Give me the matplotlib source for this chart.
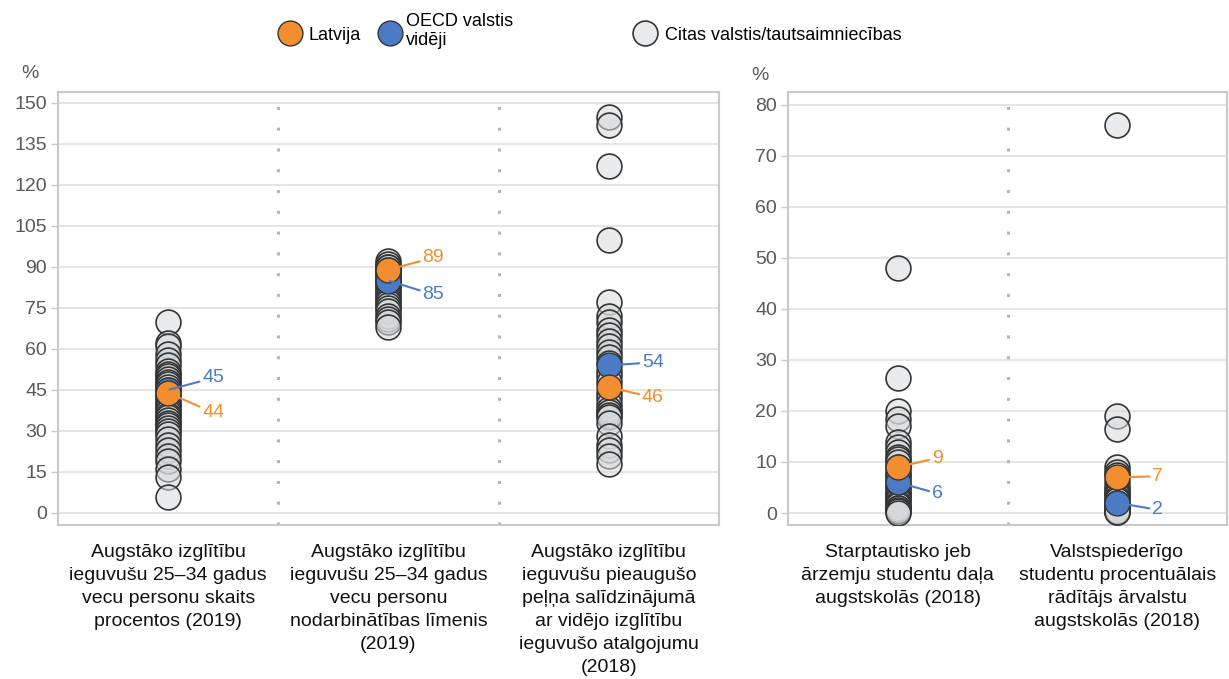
import matplotlib
matplotlib.use("Agg")
import matplotlib.pyplot as plt

plt.rcParams['font.family'] = ['Liberation Sans', 'DejaVu Sans']

# ---------------- data ----------------
left_categories = [
    "Augstāko izglītību\nieguvušu 25–34 gadus\nvecu personu skaits\nprocentos (2019)",
    "Augstāko izglītību\nieguvušu 25–34 gadus\nvecu personu\nnodarbinātības līmenis\n(2019)",
    "Augstāko izglītību\nieguvušu pieaugušo\npeļņa salīdzinājumā\nar vidējo izglītību\nieguvušo atalgojumu\n(2018)",
]
right_categories = [
    "Starptautisko jeb\nārzemju studentu daļa\naugstskolās (2018)",
    "Valstspiederīgo\nstudentu procentuālais\nrādītājs ārvalstu\naugstskolās (2018)",
]

others_left = [
    [70, 62, 61, 58, 56, 54, 52, 51, 50, 49, 48, 47, 46, 45, 43, 42, 41, 40,
     39, 38, 37, 36, 35, 34, 33, 32, 31, 30, 29, 27, 25, 23, 21, 19, 16, 13, 6],
    [92, 91, 90, 90, 89, 88, 87, 87, 86, 85, 84, 84, 83, 82, 81, 80, 79, 78,
     77, 76, 75, 74, 72, 71, 70, 68],
    [145, 142, 127, 100, 77, 72, 70, 67, 65, 63, 61, 59, 57, 55, 52, 50, 48,
     44, 42, 40, 38, 37, 36, 35, 33, 28, 25, 23, 21, 18],
]
others_right = [
    [48, 26.5, 20, 18.5, 17, 14, 13, 12, 11, 10.5, 10, 9, 8, 7.5, 7, 6, 5, 5,
     4, 4, 3.5, 3, 2.5, 2, 1.5, 1, 1, 0.5, 0.3, 0],
    [76, 19, 16.5, 9, 8, 7.5, 6, 5, 4.5, 4, 3.5, 3, 2.5, 2, 1.5, 1.2, 1, 0.8,
     0.5, 0.4, 0.3, 0.2, 0.1],
]
latvia_left = [44, 89, 46]
oecd_left = [45, 85, 54]
latvia_right = [9, 7]
oecd_right = [6, 2]

left_yticks = [0, 15, 30, 45, 60, 75, 90, 105, 120, 135, 150]
right_yticks = [0, 10, 20, 30, 40, 50, 60, 70, 80]

# ---------------- style ----------------
ORANGE = "#f28e2f"
BLUE = "#4a7bc4"
GRAY_FACE = (0.84, 0.85, 0.86, 0.55)
EDGE = "#353535"
GRID = "#e3e3e3"
FRAME = "#c9c9c9"
TICKC = "#595959"
S = 320

W, H = 1229, 679
fig = plt.figure(figsize=(W / 100, H / 100), dpi=100)


def ax_rect(x0, x1, y0, y1):
    return [x0 / W, 1 - y1 / H, (x1 - x0) / W, (y1 - y0) / H]


axL = fig.add_axes(ax_rect(58, 719, 92, 525))
axR = fig.add_axes(ax_rect(788, 1227, 92, 525))


def style(ax, ncat, yticks, ylim):
    ax.set_xlim(-0.5, ncat - 0.5)
    ax.set_ylim(*ylim)
    ax.set_yticks(yticks)
    ax.grid(axis='y', color=GRID, lw=1.3, zorder=0)
    ax.set_axisbelow(True)
    for sp in ax.spines.values():
        sp.set_color(FRAME)
        sp.set_linewidth(1.5)
    ax.tick_params(axis='y', colors=FRAME, labelcolor=TICKC, labelsize=14,
                   length=5, width=1, pad=3)
    ax.tick_params(axis='x', length=0, labelsize=14, labelcolor='#111111', pad=14)
    for k in range(ncat - 1):
        ax.axvline(k + 0.5, color='#b5b5b5', lw=2.2, ls=(0, (1, 5.8)), zorder=1)


def draw(ax, others, latvia, oecd, cats, pos_lat, pos_oecd):
    for i, vals in enumerate(others):
        ax.scatter([i] * len(vals), vals, s=S, facecolor=GRAY_FACE,
                   edgecolor=EDGE, linewidth=1.2, zorder=3)
    ax.scatter(range(len(latvia)), oecd, s=S, facecolor=BLUE, edgecolor=EDGE,
               linewidth=1.0, zorder=4)
    ax.scatter(range(len(latvia)), latvia, s=S, facecolor=ORANGE, edgecolor=EDGE,
               linewidth=1.0, zorder=5)
    for i in range(len(latvia)):
        ax.annotate(f"{oecd[i]:g}", xy=(i, oecd[i]), xytext=pos_oecd[i],
                    textcoords='offset pixels', color=BLUE, fontsize=14,
                    va='center', ha='left',
                    arrowprops=dict(arrowstyle='-', color=BLUE, lw=1.5,
                                    shrinkA=0, shrinkB=1), zorder=6)
        ax.annotate(f"{latvia[i]:g}", xy=(i, latvia[i]), xytext=pos_lat[i],
                    textcoords='offset pixels', color=ORANGE, fontsize=14,
                    va='center', ha='left',
                    arrowprops=dict(arrowstyle='-', color=ORANGE, lw=1.5,
                                    shrinkA=0, shrinkB=1), zorder=6)
    ax.set_xticks(range(len(cats)))
    labels = ax.set_xticklabels(cats)
    for t in labels:
        t.set_linespacing(1.45)


style(axL, 3, left_yticks, (-4.4, 154))
style(axR, 2, right_yticks, (-2.35, 82.5))

draw(axL, others_left, latvia_left, oecd_left, left_categories,
     pos_lat=[(34, -20), (34, 12), (33, -10)],
     pos_oecd=[(34, 12), (34, -14), (33, 3)])
draw(axR, others_right, latvia_right, oecd_right, right_categories,
     pos_lat=[(34, 9), (35, 1)],
     pos_oecd=[(34, -11), (35, -7)])

fig.text(30 / W, 1 - 74 / H, "%", ha='center', va='center', fontsize=14, color=TICKC)
fig.text(760 / W, 1 - 75 / H, "%", ha='center', va='center', fontsize=14, color=TICKC)

# ---------------- legend ----------------
lg = fig.add_axes([0, 0, 1, 1], facecolor='none')
lg.set_xlim(0, W)
lg.set_ylim(H, 0)
lg.axis('off')
lg.scatter([290], [33], s=S, facecolor=ORANGE, edgecolor=EDGE, linewidth=1.0)
lg.text(308, 36, "Latvija", fontsize=13, va='center', ha='left')
lg.scatter([390], [33], s=S, facecolor=BLUE, edgecolor=EDGE, linewidth=1.0)
lg.text(406, 31, "OECD valstis\nvidēji", fontsize=13, va='center', ha='left',
        linespacing=1.15)
lg.scatter([645], [33], s=S, facecolor=GRAY_FACE, edgecolor=EDGE, linewidth=1.2)
lg.text(665, 35, "Citas valstis/tautsaimniecības", fontsize=13, va='center', ha='left')

fig.savefig("out.png", dpi=100, facecolor='white')
